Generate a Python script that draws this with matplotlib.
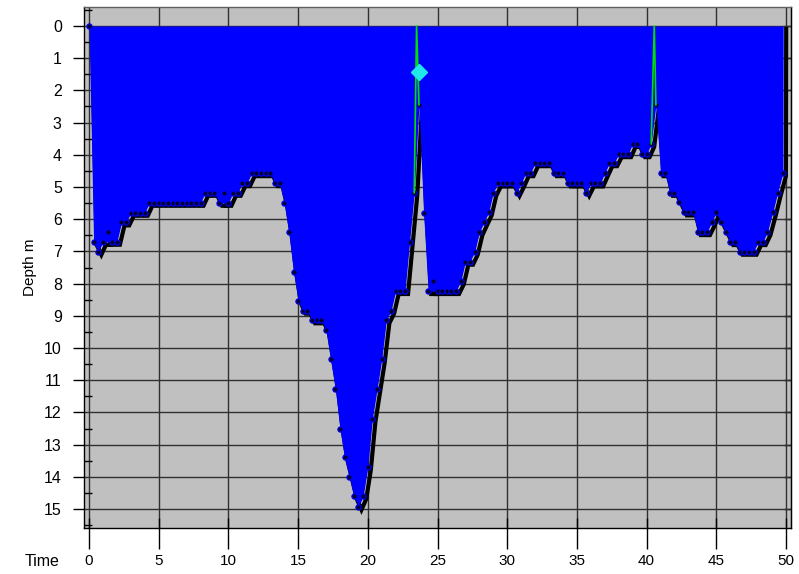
import matplotlib
matplotlib.use('Agg')
import matplotlib.pyplot as plt
import matplotlib.transforms as mtransforms
from matplotlib.ticker import FixedLocator

plt.rcParams['font.family'] = ['Liberation Sans', 'DejaVu Sans']

# ---- data ----
time_min = [
    0.00, 0.33, 0.67, 1.00, 1.33, 1.67, 2.00, 2.33, 2.67, 3.00, 3.33, 3.67,
    4.00, 4.33, 4.67, 5.00, 5.33, 5.67, 6.00, 6.33, 6.67, 7.00, 7.33, 7.67,
    8.00, 8.33, 8.67, 9.00, 9.33, 9.67, 10.00, 10.33, 10.67, 11.00, 11.33, 11.67,
    12.00, 12.33, 12.67, 13.00, 13.33, 13.67, 14.00, 14.33, 14.67, 15.00, 15.33, 15.67,
    16.00, 16.33, 16.67, 17.00, 17.33, 17.67, 18.00, 18.33, 18.67, 19.00, 19.33, 19.67,
    20.00, 20.33, 20.67, 21.00, 21.33, 21.67, 22.00, 22.33, 22.67, 23.00, 23.33, 23.67,
    24.00, 24.33, 24.67, 25.00, 25.33, 25.67, 26.00, 26.33, 26.67, 27.00, 27.33, 27.67,
    28.00, 28.33, 28.67, 29.00, 29.33, 29.67, 30.00, 30.33, 30.67, 31.00, 31.33, 31.67,
    32.00, 32.33, 32.67, 33.00, 33.33, 33.67, 34.00, 34.33, 34.67, 35.00, 35.33, 35.67,
    36.00, 36.33, 36.67, 37.00, 37.33, 37.67, 38.00, 38.33, 38.67, 39.00, 39.33, 39.67,
    40.00, 40.33, 40.67, 41.00, 41.33, 41.67, 42.00, 42.33, 42.67, 43.00, 43.33, 43.67,
    44.00, 44.33, 44.67, 45.00, 45.33, 45.67, 46.00, 46.33, 46.67, 47.00, 47.33, 47.67,
    48.00, 48.33, 48.67, 49.05, 49.40, 49.78, 49.80,
]
depth_m = [
    0.00, 6.70, 7.01, 6.70, 6.70, 6.70, 6.70, 6.10, 6.10, 5.80, 5.80, 5.80,
    5.80, 5.49, 5.49, 5.49, 5.49, 5.49, 5.49, 5.49, 5.49, 5.49, 5.49, 5.49,
    5.49, 5.18, 5.18, 5.18, 5.49, 5.49, 5.49, 5.18, 5.18, 4.88, 4.88, 4.57,
    4.57, 4.57, 4.57, 4.57, 4.88, 4.88, 5.49, 6.41, 7.63, 8.53, 8.84, 8.84,
    9.14, 9.14, 9.14, 9.45, 10.35, 11.27, 12.50, 13.40, 14.00, 14.60, 14.93, 14.60,
    13.70, 12.20, 11.27, 10.35, 9.14, 8.84, 8.23, 8.23, 8.23, 6.70, 5.18, 2.45,
    5.80, 8.23, 8.23, 8.23, 8.23, 8.23, 8.23, 8.23, 7.93, 7.32, 7.32, 7.01,
    6.41, 6.10, 5.79, 5.18, 4.89, 4.89, 4.89, 4.89, 5.18, 4.89, 4.57, 4.57,
    4.26, 4.26, 4.26, 4.26, 4.57, 4.57, 4.57, 4.89, 4.89, 4.89, 4.89, 5.18,
    4.89, 4.89, 4.89, 4.57, 4.26, 4.26, 3.98, 3.98, 3.98, 3.66, 3.66, 3.98,
    3.98, 3.66, 2.45, 4.57, 4.57, 5.18, 5.18, 5.48, 5.79, 5.79, 5.79, 6.40,
    6.40, 6.40, 6.10, 5.79, 6.10, 6.40, 6.71, 6.71, 7.01, 7.01, 7.01, 7.01,
    6.71, 6.71, 6.40, 5.79, 5.18, 4.57, 0.00,
]
# short upward spikes (same time, shallower reading)
spike_time = [1.33, 9.67, 24.67]
spike_top = [6.39, 5.18, 7.93]
# surface-interval links (green lines)
surface_time = [23.50, 40.55]
surf_left_time = [23.33, 40.33]
surf_left_depth = [5.18, 3.66]
surf_right_time = [23.67, 40.67]
surf_right_depth = [2.45, 2.45]
# event marker
event_time = [23.67]
event_depth = [1.44]

x_ticks = [0, 5, 10, 15, 20, 25, 30, 35, 40, 45, 50]
y_ticks = list(range(0, 16))

# ---- figure ----
fig = plt.figure(figsize=(7.99, 5.74), dpi=100)
ax = fig.add_axes([84 / 799, 1 - 528 / 574, (791 - 84) / 799, (528 - 7) / 574])
ax.set_facecolor('#c0c0c0')
ax.set_xlim(-0.36, 50.36)
ax.set_ylim(15.59, -0.59)

# path with spikes inserted
line_t, line_d = [], []
for t, d in zip(time_min, depth_m):
    line_t.append(t)
    line_d.append(d)
    for st, sd in zip(spike_time, spike_top):
        if abs(st - t) < 1e-6:
            line_t += [t, t]
            line_d += [sd, d]

shadow = mtransforms.offset_copy(ax.transData, fig=fig, x=3, y=-3, units='dots')
ax.plot(line_t, line_d, color='black', lw=3.0, transform=shadow, zorder=1,
        solid_joinstyle='miter')
ax.fill_between(time_min, 0, depth_m, color='#0000ff', lw=0, zorder=2)

# markers
keep = [all(abs(t - st) > 1e-6 for st in spike_time) for t in time_min]
mk_t = [t for t, k in zip(time_min[:-1], keep[:-1]) if k] + spike_time
mk_d = [d for d, k in zip(depth_m[:-1], keep[:-1]) if k] + spike_top
ax.plot(mk_t, mk_d, ls='none', marker='o', ms=3.8, mfc='#000030', mec='#0000ff',
        mew=0.8, zorder=3)

for s, lt, ld, rt, rd in zip(surface_time, surf_left_time, surf_left_depth,
                             surf_right_time, surf_right_depth):
    ax.plot([lt, s, rt], [ld, 0, rd], color='#00e000', lw=1.2, zorder=4)

ax.plot(event_time, event_depth, ls='none', marker='D', ms=8, mfc='#20e8e8',
        mec='#20e8e8', zorder=5)

# grid
ax.set_axisbelow(True)
ax.xaxis.set_major_locator(FixedLocator(x_ticks))
ax.yaxis.set_major_locator(FixedLocator(y_ticks))
ax.grid(True, which='major', color='#303030', lw=1.0)

# ticks
ax.xaxis.set_minor_locator(FixedLocator(x_ticks))
ax.xaxis.remove_overlapping_locs = False
ax.yaxis.set_minor_locator(FixedLocator([v + 0.5 for v in range(-1, 16)]))
ax.tick_params(axis='x', which='major', direction='out', length=15, width=1,
               pad=4, labelsize=11)
ax.tick_params(axis='x', which='minor', direction='in', length=7, width=1)
ax.tick_params(axis='y', which='major', direction='out', length=8, width=1,
               pad=8, labelsize=11.5)
ax.tick_params(axis='y', which='minor', direction='in', length=6, width=1)
ax.set_xticklabels([str(v) for v in x_ticks])
ax.set_yticklabels([str(v) for v in y_ticks])

sec = ax.secondary_yaxis('right')
sec.yaxis.set_major_locator(FixedLocator(y_ticks))
sec.tick_params(direction='in', length=5, width=1, labelright=False)

for sp in ax.spines.values():
    sp.set_color('black')
    sp.set_linewidth(1)
ax.spines['top'].set_color('#606060')

ax.set_ylabel('Depth m', fontsize=11, labelpad=5)
fig.text(42 / 799, 1 - 562 / 574, 'Time', ha='center', va='center', fontsize=11.5)

fig.savefig('out.png', dpi=100)
